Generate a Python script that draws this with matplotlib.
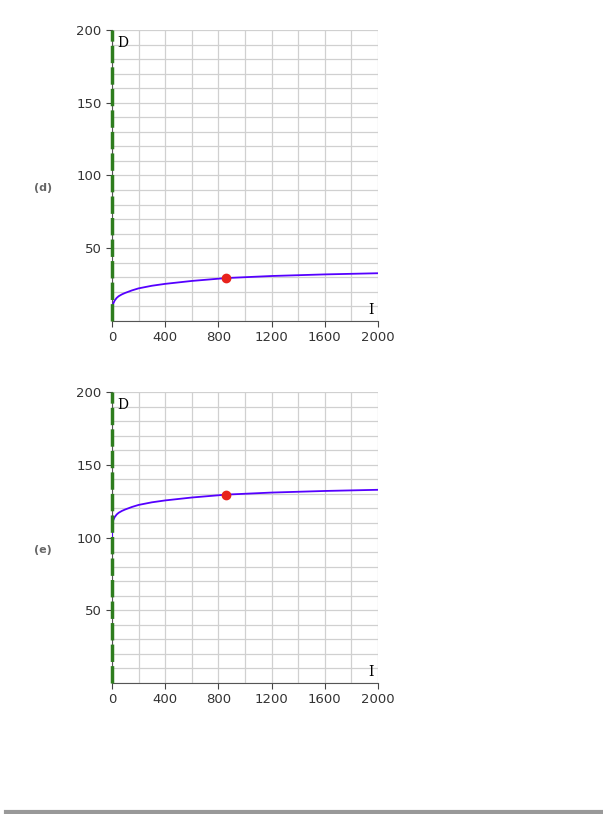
import matplotlib.pyplot as plt

# curve values (panel d); panel e is the same curve shifted by 100
I = [0, 0.5, 2, 5, 10, 20, 35, 50, 75, 100, 150, 200, 300, 400, 600, 860, 1200, 1600, 2000]
D_d = [0, 4.5, 7.5, 10, 12, 14, 15.8, 17, 18.3, 19.3, 21, 22.4, 24.2, 25.5, 27.5, 29.5, 30.9, 32.0, 32.8]
D_e = [100, 104.5, 107.5, 110, 112, 114, 115.8, 117, 118.3, 119.3, 121, 122.4, 124.2, 125.5, 127.5, 129.5, 130.9, 132.0, 132.8]
pt_I = 860
pt_d = 29.5
pt_e = 129.5
panel_labels = ['(d)', '(e)']

fig = plt.figure(figsize=(6.03, 8.14), dpi=100)

def panel(bottom, D, pt, lab, lab_y):
    ax = fig.add_axes([0.1857, bottom, 0.4411, 0.3575])
    for x in range(0, 2001, 200):
        ax.axvline(x, color='#d0d0d0', lw=0.9, zorder=0)
    for y in range(0, 201, 10):
        ax.axhline(y, color='#d0d0d0', lw=0.9, zorder=0)
    ax.plot(I, D, color='#5500ff', lw=1.3, zorder=3)
    ax.plot([pt_I], [pt], 'o', color='#e8221c', ms=6, zorder=4)
    ax.set_xlim(0, 2000)
    ax.set_ylim(0, 200)
    ax.set_xticks([0, 400, 800, 1200, 1600, 2000])
    ax.set_yticks([50, 100, 150, 200])
    ax.tick_params(colors='#444444', labelcolor='#333333', labelsize=9.5, length=4)
    for s in ['top', 'right']:
        ax.spines[s].set_visible(False)
    ax.spines['bottom'].set_color('#555555')
    ax.spines['left'].set_color('#555555')
    ax.plot([0, 0], [0, 200], color='#2e7d1e', lw=2.5, ls=(0, (5, 1.2)), zorder=5, clip_on=False)
    ax.text(40, 196, 'D', family='DejaVu Serif', fontsize=10, va='top')
    ax.text(1930, 3, 'I', family='DejaVu Serif', fontsize=10, va='bottom')
    fig.text(43 / 603, 1 - lab_y / 814, lab, fontsize=8, fontweight='bold',
             color='#666666', ha='center', va='center')

panel(0.6057, D_d, pt_d, panel_labels[0], 188)
panel(0.1609, D_e, pt_e, panel_labels[1], 550)

fig.add_artist(plt.Line2D([0.01, 1.0], [0.003, 0.003], color='#999999', lw=3))
fig.savefig('out.png', dpi=100)
